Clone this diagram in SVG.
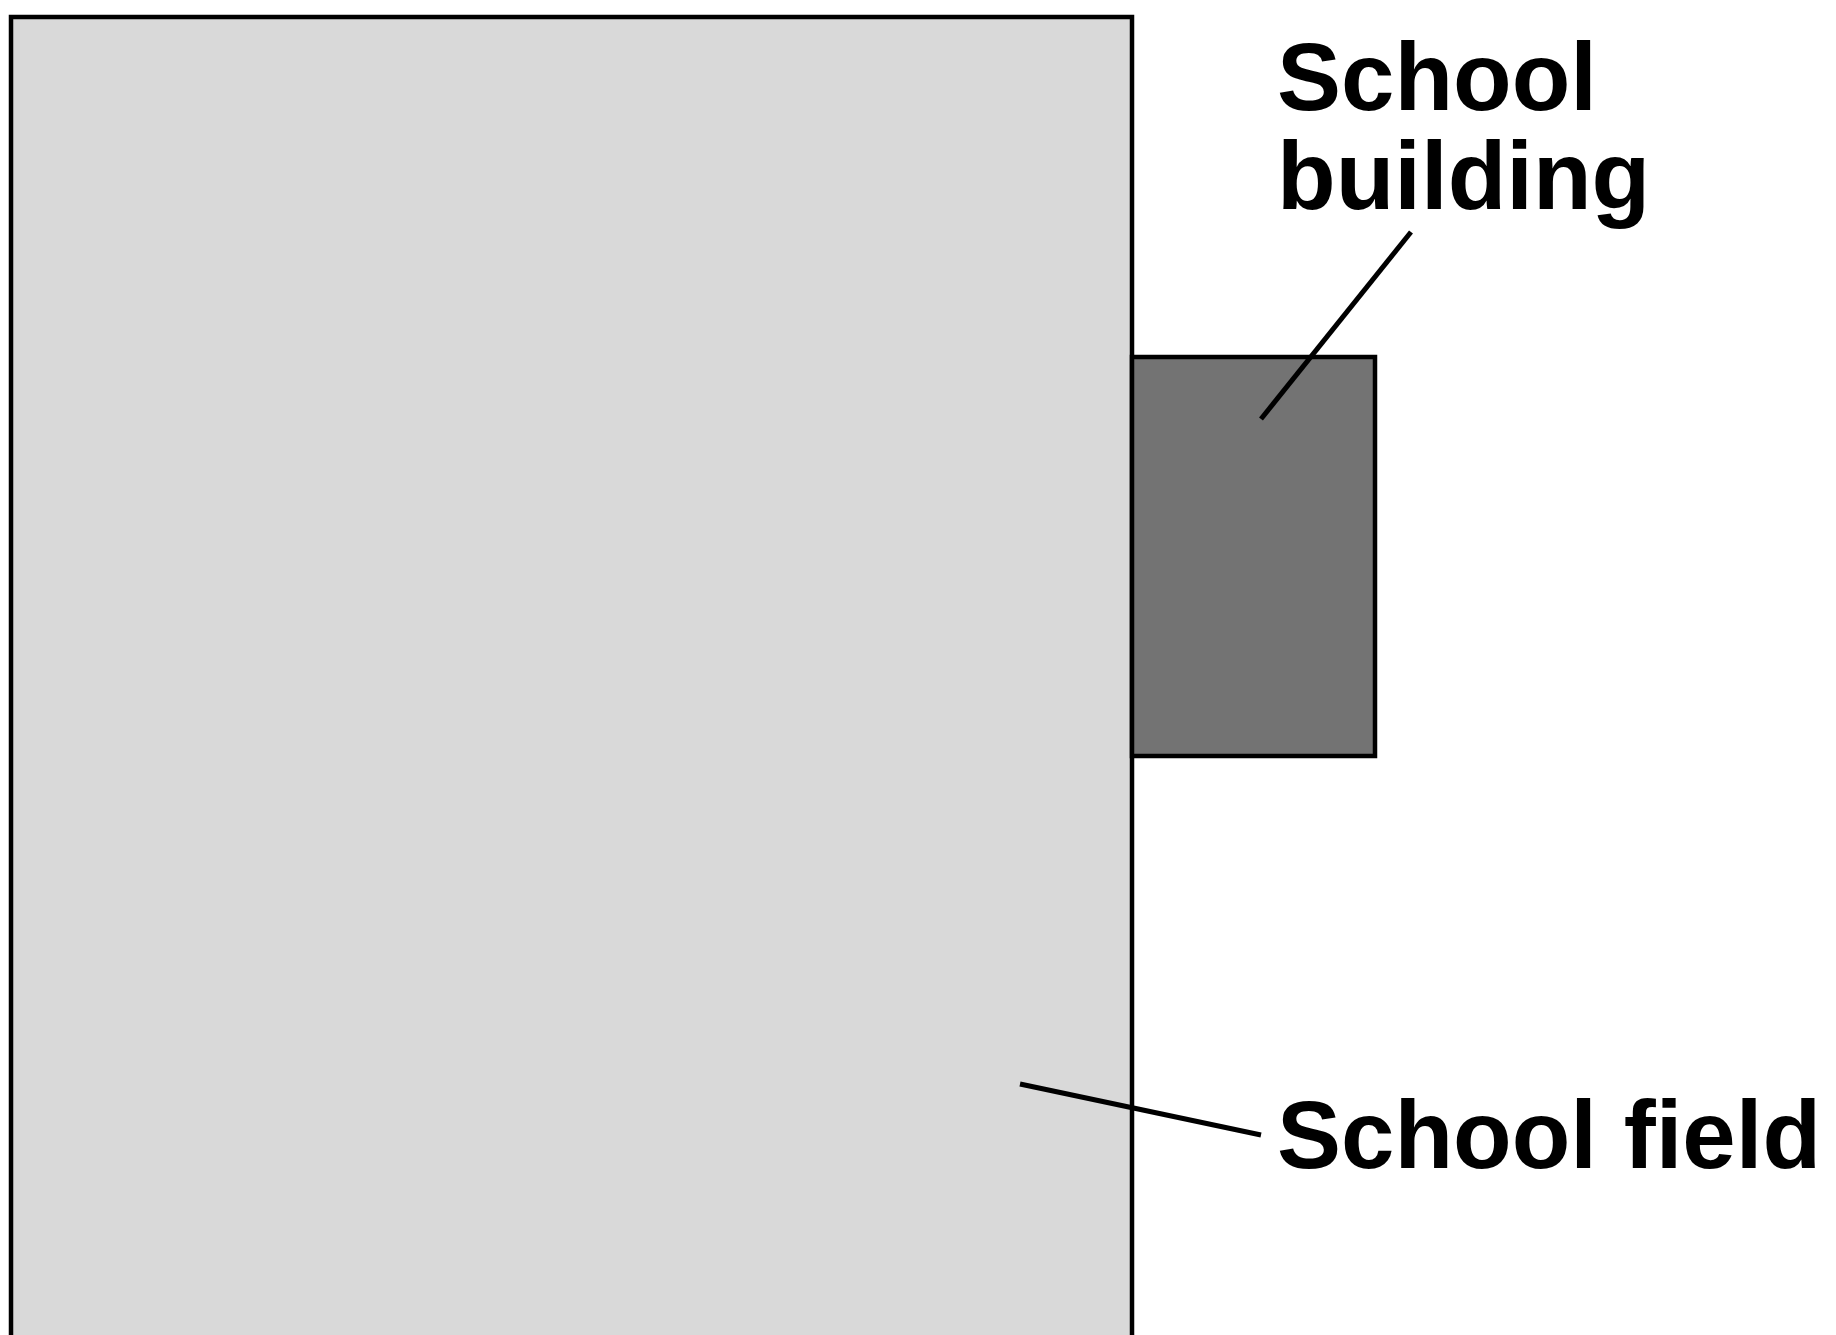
<svg xmlns="http://www.w3.org/2000/svg" width="1836" height="1335" viewBox="0 0 1836 1335">
<style>
.lbl{font-family:"Liberation Sans",Arial,sans-serif;font-weight:bold;font-size:96px;fill:#000}
.ld{stroke:#000;stroke-width:5;fill:none}
</style>
<rect width="1836" height="1335" fill="#fff"/>
<g id="school-field">
<rect x="11" y="17" width="1121" height="1340" fill="#d9d9d9" stroke="#000" stroke-width="4.5"/>
</g>
<g id="school-building">
<rect x="1132" y="357" width="243" height="399" fill="#737373" stroke="#000" stroke-width="4.5"/>
</g>
<g id="connectors">
<line class="ld" x1="1411" y1="232" x2="1261" y2="419"/>
<line class="ld" x1="1020" y1="1084" x2="1261" y2="1135"/>
</g>
<g id="labels">
<text class="lbl" x="1277" y="110">School</text>
<text class="lbl" x="1277" y="209">building</text>
<text class="lbl" x="1277" y="1168">School field</text>
</g>
</svg>
